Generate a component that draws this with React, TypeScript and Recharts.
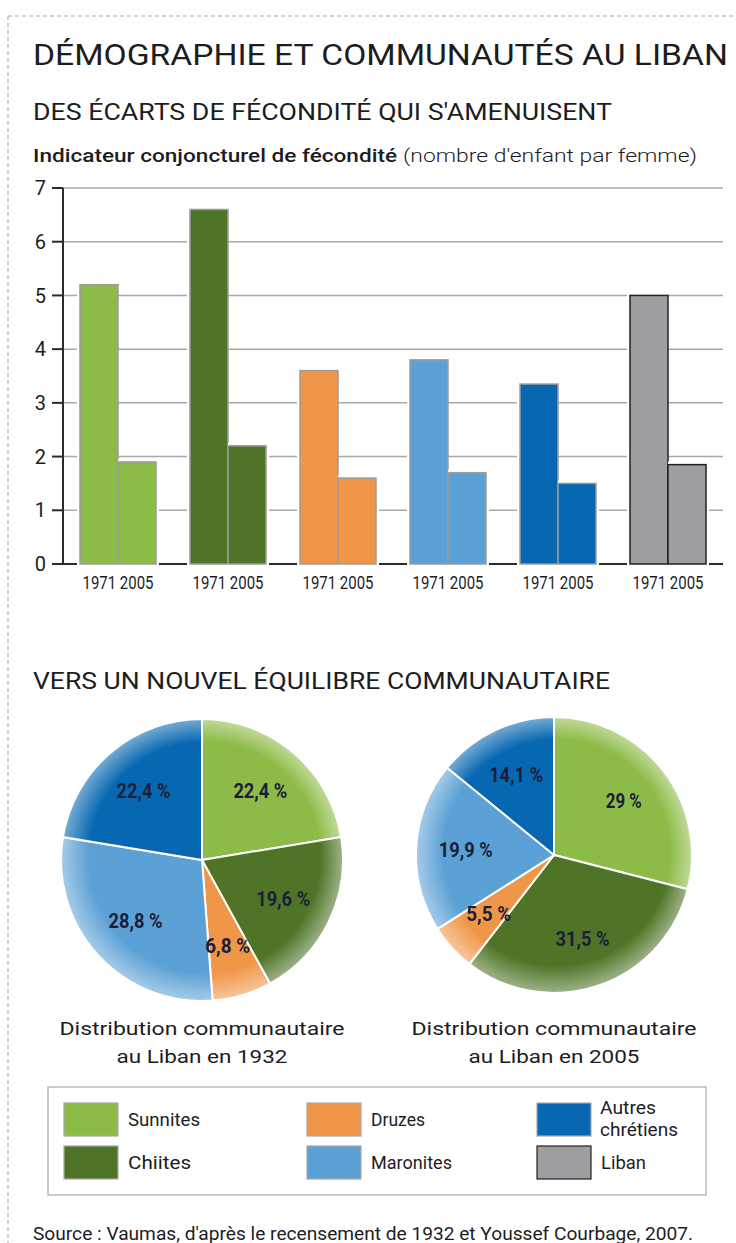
import {
  BarChart,
  Bar,
  XAxis,
  YAxis,
  CartesianGrid,
  Cell,
  PieChart,
  Pie,
} from 'recharts';

const communities = ['Sunnites', 'Chiites', 'Druzes', 'Maronites', 'Autres chrétiens', 'Liban'];
const colors = ['#8dbb47', '#4f7427', '#f09649', '#5ca1d5', '#0768b1', '#9d9ea1'];
const years = ['1971', '2005'];
const fecondite1971 = [5.2, 6.6, 3.6, 3.8, 3.35, 5.0];
const fecondite2005 = [1.9, 2.2, 1.6, 1.7, 1.5, 1.85];
const yTicks = [0, 1, 2, 3, 4, 5, 6, 7];

const pieCommunities = communities.slice(0, 5);
const parts1932 = [22.4, 19.6, 6.8, 28.8, 22.4];
const parts2005 = [29, 31.5, 5.5, 19.9, 14.1];
const pieYears = ['1932', '2005'];

const FONT = 'Roboto, "DejaVu Sans", sans-serif';
const INK = '#1d1d1f';

const barData = communities.map((name, i) => ({
  name,
  y1971: fecondite1971[i],
  y2005: fecondite2005[i],
}));
const pie1932 = pieCommunities.map((name, i) => ({ name, value: parts1932[i] }));
const pie2005 = pieCommunities.map((name, i) => ({ name, value: parts2005[i] }));

// layout
const BAR_GAP_CAT = 17;
const PIES = [
  { cx: 202, cy: 160, r: 141 },
  { cx: 554, cy: 155, r: 138 },
];

function T({ x, y, w, size, weight = 400, anchor = 'start', fill = INK, children }: any) {
  return (
    <text
      x={x}
      y={y}
      fontSize={size}
      fontWeight={weight}
      fontFamily={FONT}
      fill={fill}
      textAnchor={anchor}
      textLength={w}
      lengthAdjust="spacingAndGlyphs"
    >
      {children}
    </text>
  );
}

const haloBar = (side: 'left' | 'right') => (p: any) => {
  const { x, y, width, height, fill, stroke } = p;
  const g = 3;
  return (
    <g>
      <rect x={side === 'left' ? x - g : x} y={y - g} width={width + g} height={height + g + 3} fill="#fff" />
      <rect x={x} y={y} width={width} height={height} fill={fill} stroke={stroke} strokeWidth={1.5} />
    </g>
  );
};

const YearTick = (p: any) => {
  const { x, y } = p;
  return (
    <text
      x={x}
      y={y + 25}
      textAnchor="middle"
      fontSize={18}
      fontFamily={FONT}
      fill={INK}
      textLength={71}
      lengthAdjust="spacingAndGlyphs"
    >
      {years.join('  ')}
    </text>
  );
};

const RAD = Math.PI / 180;
const pieLabel = (p: any) => {
  const { cx, cy, midAngle, outerRadius, value } = p;
  const r = outerRadius * 0.64;
  const x = cx + r * Math.cos(-midAngle * RAD);
  const y = cy + r * Math.sin(-midAngle * RAD);
  const txt = String(value).replace('.', ',') + ' %';
  return (
    <text
      x={x}
      y={y}
      textAnchor="middle"
      dominantBaseline="central"
      fontSize={21}
      fontWeight={700}
      fontFamily={FONT}
      fill="#1b2038"
      textLength={txt.length * 9}
      lengthAdjust="spacingAndGlyphs"
    >
      {txt}
    </text>
  );
};

export default function App() {
  return (
    <div style={{ position: 'relative', width: 736, height: 1243, background: '#fff', overflow: 'hidden' }}>
      <style>{'body{margin:0}'}</style>

      <svg width={736} height={1243} style={{ position: 'absolute', left: 0, top: 0 }}>
        <line x1={8} y1={16} x2={736} y2={16} stroke="#a5a5a5" strokeDasharray="4 3" />
        <line x1={8} y1={16} x2={8} y2={1243} stroke="#a5a5a5" strokeDasharray="4 3" />

        <T x={33} y={65} w={695} size={30}>DÉMOGRAPHIE ET COMMUNAUTÉS AU LIBAN</T>
        <T x={33} y={120} w={579} size={23}>DES ÉCARTS DE FÉCONDITÉ QUI S'AMENUISENT</T>
        <T x={33} y={162} w={364} size={19} weight={500}>Indicateur conjoncturel de fécondité</T>
        <T x={403} y={162} w={294} size={19} weight={300}>(nombre d'enfant par femme)</T>

        <T x={33} y={689} w={577} size={23}>VERS UN NOUVEL ÉQUILIBRE COMMUNAUTAIRE</T>

        {PIES.map((pc, i) => (
          <g key={i}>
            <T x={pc.cx} y={1035} w={285} size={19} anchor="middle">Distribution communautaire</T>
            <T x={pc.cx} y={1063} w={171} size={19} anchor="middle">{'au Liban en ' + pieYears[i]}</T>
          </g>
        ))}

        <rect x={48} y={1087} width={658} height={108} fill="none" stroke="#a9a9a9" strokeWidth={1.2} />
        {communities.map((name, i) => {
          const lx = [64, 307, 537][Math.floor(i / 2)];
          const ly = [1103, 1146][i % 2];
          const two = name.split(' ');
          return (
            <g key={name}>
              <rect
                x={lx}
                y={ly}
                width={54}
                height={33}
                fill={colors[i]}
                stroke={name === 'Liban' ? '#222' : '#a8a8a8'}
                strokeWidth={1.2}
              />
              {two.length > 1 ? (
                <>
                  <T x={lx + 63} y={ly + 11} w={56} size={18}>{two[0]}</T>
                  <T x={lx + 63} y={ly + 33} w={78} size={18}>{two[1]}</T>
                </>
              ) : (
                <T x={lx + 64} y={ly + 23} w={name.length * 9} size={18}>{name}</T>
              )}
            </g>
          );
        })}

        <T x={33} y={1240} w={660} size={18}>Source : Vaumas, d'après le recensement de 1932 et Youssef Courbage, 2007.</T>
      </svg>

      <div style={{ position: 'absolute', left: 0, top: 170 }}>
        <BarChart
          width={736}
          height={440}
          data={barData}
          margin={{ top: 18, right: 13, left: 0, bottom: 16 }}
          barCategoryGap={BAR_GAP_CAT}
          barGap={0}
        >
          <CartesianGrid vertical={false} stroke="#a9a9a9" strokeWidth={1.5} horizontalValues={yTicks.slice(1)} />
          <CartesianGrid vertical={false} stroke="#2b2b2b" strokeWidth={2} horizontalValues={[0]} />
          <XAxis dataKey="name" axisLine={false} tickLine={false} tickSize={0} tickMargin={0} tick={<YearTick />} interval={0} />
          <YAxis
            domain={[0, 7]}
            ticks={yTicks}
            width={63}
            axisLine={{ stroke: '#2b2b2b', strokeWidth: 2 }}
            tickLine={{ stroke: '#2b2b2b', strokeWidth: 2 }}
            tickSize={11}
            tickMargin={6}
            tick={{ fontSize: 20, fontFamily: FONT, fill: INK }}
          />
          <Bar dataKey="y1971" isAnimationActive={false} shape={haloBar('left')}>
            {barData.map((d, i) => (
              <Cell key={d.name} fill={colors[i]} stroke={d.name === 'Liban' ? '#222' : '#9c9c9c'} />
            ))}
          </Bar>
          <Bar dataKey="y2005" isAnimationActive={false} shape={haloBar('right')}>
            {barData.map((d, i) => (
              <Cell key={d.name} fill={colors[i]} stroke={d.name === 'Liban' ? '#222' : '#9c9c9c'} />
            ))}
          </Bar>
        </BarChart>
      </div>

      <div style={{ position: 'absolute', left: 0, top: 700 }}>
        <PieChart width={736} height={320} margin={{ top: 0, right: 0, bottom: 0, left: 0 }}>
          <defs>
            {PIES.map((pc, pi) =>
              colors.slice(0, 5).map((c, ci) => (
                <radialGradient
                  key={`g${pi}-${ci}`}
                  id={`pg${pi}-${ci}`}
                  gradientUnits="userSpaceOnUse"
                  cx={pc.cx}
                  cy={pc.cy}
                  r={pc.r}
                  fx={pc.cx + pc.r * 0.1}
                  fy={pc.cy - pc.r * 0.1}
                >
                  <stop offset="0%" stopColor={c} />
                  <stop offset="82%" stopColor={c} />
                  <stop offset="100%" stopColor={c} stopOpacity={0.55} />
                </radialGradient>
              )),
            )}
          </defs>
          {[pie1932, pie2005].map((data, pi) => (
            <Pie
              key={pi}
              data={data}
              dataKey="value"
              nameKey="name"
              cx={PIES[pi].cx}
              cy={PIES[pi].cy}
              outerRadius={PIES[pi].r}
              startAngle={90}
              endAngle={-270}
              stroke="#fff"
              strokeWidth={2}
              label={pieLabel}
              labelLine={false}
              isAnimationActive={false}
            >
              {data.map((d, ci) => (
                <Cell key={d.name} fill={`url(#pg${pi}-${ci})`} />
              ))}
            </Pie>
          ))}
        </PieChart>
      </div>
    </div>
  );
}
